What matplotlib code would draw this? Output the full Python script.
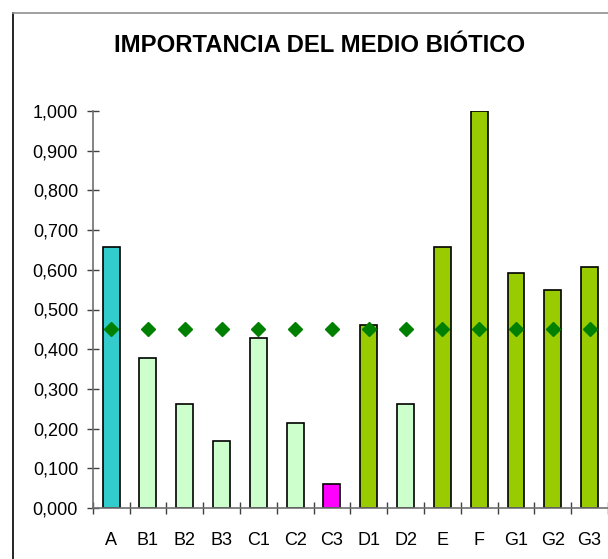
import matplotlib.pyplot as plt
from matplotlib.ticker import FuncFormatter, FixedLocator
from matplotlib.lines import Line2D

plt.rcParams['font.family'] = ['Liberation Sans', 'DejaVu Sans']

categorias = ['A', 'B1', 'B2', 'B3', 'C1', 'C2', 'C3', 'D1', 'D2', 'E', 'F', 'G1', 'G2', 'G3']
importancia = [0.657, 0.379, 0.263, 0.169, 0.429, 0.215, 0.060, 0.462, 0.263, 0.657, 1.000, 0.591, 0.548, 0.606]
media = [0.45] * 14
colores = ['#33CCCC', '#CCFFCC', '#CCFFCC', '#CCFFCC', '#CCFFCC', '#CCFFCC', '#FF00FF',
           '#99CC00', '#CCFFCC', '#99CC00', '#99CC00', '#99CC00', '#99CC00', '#99CC00']
yticks = [0.0, 0.1, 0.2, 0.3, 0.4, 0.5, 0.6, 0.7, 0.8, 0.9, 1.0]

fig = plt.figure(figsize=(6.08, 5.59), dpi=100)
ax = fig.add_axes([92.7/608, 1-508/559, (608-92.7)/608, (508-111)/559])

x = list(range(len(categorias)))
ax.bar(x, importancia, width=0.46, color=colores, edgecolor='black', linewidth=1.2, zorder=2)
ax.plot(x, media, linestyle='none', marker='D', markersize=7.6, color='#008000', zorder=3, clip_on=False)

ax.set_xlim(-0.5, len(categorias) - 0.5)
ax.set_ylim(0, 1.0)

ax.set_xticks(x)
ax.set_xticklabels(categorias, fontsize=13)
ax.tick_params(axis='x', which='major', length=0, pad=17)
ax.xaxis.set_minor_locator(FixedLocator([i + 0.5 for i in range(-1, len(categorias))]))
ax.tick_params(axis='x', which='minor', direction='inout', length=9, width=1, color='#404040')

ax.set_yticks(yticks)
ax.yaxis.set_major_formatter(FuncFormatter(lambda v, p: ('%.3f' % v).replace('.', ',')))
ax.tick_params(axis='y', direction='inout', length=9, width=1, color='#404040', labelsize=13, pad=6)

for s in ['top', 'right']:
    ax.spines[s].set_visible(False)
ax.spines['left'].set_color('#707070')
ax.spines['bottom'].set_color('#707070')
ax.spines['left'].set_linewidth(1.2)
ax.spines['bottom'].set_linewidth(1.2)

fig.text(320/608, 1-46/559, 'IMPORTANCIA DEL MEDIO BIÓTICO', ha='center', va='center',
         fontsize=17.2, fontweight='bold')

# marco del gráfico
fig.add_artist(Line2D([13/608, 13/608], [0, 1-13/559], color='black', linewidth=1.2, transform=fig.transFigure))
fig.add_artist(Line2D([13/608, 1], [1-13/559, 1-13/559], color='#909090', linewidth=1.2, transform=fig.transFigure))

fig.savefig('out.png', dpi=100)
